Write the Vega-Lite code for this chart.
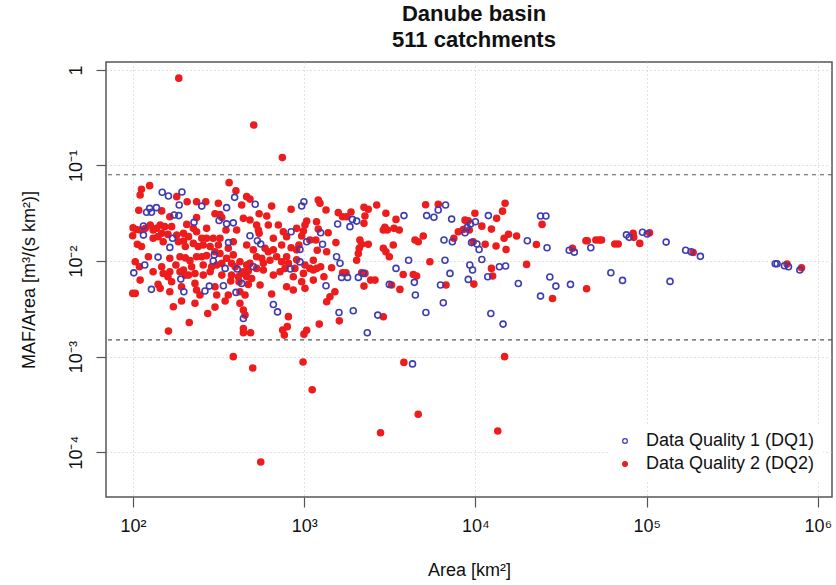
{
"$schema": "https://vega.github.io/schema/vega-lite/v6.json",
"width": 726, "height": 435,
"autosize": {"type": "none"},
"padding": {"left": 106, "top": 62, "right": 4, "bottom": 88},
"background": "white",
"config": {
  "font": "Liberation Sans, Arial, Helvetica, sans-serif",
  "view": {"stroke": "#555555", "strokeWidth": 1.5},
  "axis": {"domain": false, "tickSize": 10, "tickColor": "#555555", "tickWidth": 1.2, "labelFontSize": 18, "labelColor": "#111111", "labelPadding": 10, "titleFontSize": 18, "titleFontWeight": "normal", "titleColor": "#111111", "grid": true, "gridDash": [1, 3], "gridColor": "#c4c4c4", "gridWidth": 1}
},
"title": {"text": ["Danube basin", "511 catchments"], "fontSize": 22, "fontWeight": "bold", "color": "#111111", "anchor": "middle", "frame": "group", "offset": 10, "lineHeight": 26, "dx": 5},
"datasets": {
  "pts": [
{"a":185,"r":0.82,"q":"DQ2"},{"a":507,"r":0.265,"q":"DQ2"},{"a":745,"r":0.121,"q":"DQ2"},{"a":385,"r":0.001,"q":"DQ2"},{"a":500,"r":0.00076,"q":"DQ2"},{"a":984,"r":0.00088,"q":"DQ2"},{"a":1113,"r":0.00045,"q":"DQ2"},{"a":3820,"r":0.00087,"q":"DQ2"},{"a":4630,"r":0.00025,"q":"DQ2"},{"a":2790,"r":0.00016,"q":"DQ2"},{"a":13500,"r":0.000167,"q":"DQ2"},{"a":14800,"r":0.001,"q":"DQ2"},{"a":557,"r":0.000079,"q":"DQ2"},
{"a":125,"r":0.0615,"q":"DQ2"},{"a":112,"r":0.0563,"q":"DQ2"},{"a":364,"r":0.0661,"q":"DQ2"},{"a":399,"r":0.0545,"q":"DQ2"},{"a":161,"r":0.00185,"q":"DQ2"},{"a":213,"r":0.00228,"q":"DQ2"},{"a":441,"r":0.00197,"q":"DQ2"},{"a":441,"r":0.00178,"q":"DQ2"},{"a":486,"r":0.00178,"q":"DQ2"},{"a":748,"r":0.0019,"q":"DQ2"},{"a":765,"r":0.00168,"q":"DQ2"},{"a":796,"r":0.00206,"q":"DQ2"},
{"a":110,"r":0.0491,"q":"DQ2"},{"a":180,"r":0.0472,"q":"DQ2"},{"a":207,"r":0.0418,"q":"DQ2"},{"a":235,"r":0.0418,"q":"DQ2"},{"a":266,"r":0.0418,"q":"DQ2"},{"a":461,"r":0.0472,"q":"DQ2"},{"a":482,"r":0.0445,"q":"DQ2"},{"a":645,"r":0.0376,"q":"DQ2"},{"a":838,"r":0.0348,"q":"DQ2"},{"a":315,"r":0.0402,"q":"DQ2"},{"a":108,"r":0.034,"q":"DQ2"},{"a":147,"r":0.0335,"q":"DQ2"},{"a":164,"r":0.0291,"q":"DQ2"},{"a":206,"r":0.0242,"q":"DQ2"},{"a":235,"r":0.0285,"q":"DQ2"},{"a":301,"r":0.0313,"q":"DQ2"},{"a":322,"r":0.0306,"q":"DQ2"},{"a":330,"r":0.0285,"q":"DQ2"},{"a":431,"r":0.0386,"q":"DQ2"},{"a":441,"r":0.028,"q":"DQ2"},{"a":482,"r":0.0269,"q":"DQ2"},{"a":545,"r":0.0313,"q":"DQ2"},{"a":604,"r":0.0296,"q":"DQ2"},
{"a":100,"r":0.0223,"q":"DQ2"},{"a":104,"r":0.0214,"q":"DQ2"},{"a":110,"r":0.0211,"q":"DQ2"},{"a":118,"r":0.022,"q":"DQ2"},{"a":131,"r":0.0211,"q":"DQ2"},{"a":144,"r":0.0238,"q":"DQ2"},{"a":153,"r":0.0229,"q":"DQ2"},{"a":147,"r":0.0195,"q":"DQ2"},{"a":160,"r":0.019,"q":"DQ2"},{"a":197,"r":0.0195,"q":"DQ2"},{"a":225,"r":0.022,"q":"DQ2"},{"a":235,"r":0.0203,"q":"DQ2"},{"a":252,"r":0.0173,"q":"DQ2"},{"a":269,"r":0.0173,"q":"DQ2"},{"a":294,"r":0.0173,"q":"DQ2"},{"a":322,"r":0.0173,"q":"DQ2"},{"a":349,"r":0.0211,"q":"DQ2"},{"a":403,"r":0.0211,"q":"DQ2"},{"a":540,"r":0.0211,"q":"DQ2"},{"a":545,"r":0.0195,"q":"DQ2"},{"a":617,"r":0.0238,"q":"DQ2"},{"a":706,"r":0.0238,"q":"DQ2"},{"a":789,"r":0.018,"q":"DQ2"},{"a":903,"r":0.022,"q":"DQ2"},{"a":931,"r":0.0147,"q":"DQ2"},
{"a":99.5,"r":0.0184,"q":"DQ2"},{"a":106,"r":0.015,"q":"DQ2"},{"a":112,"r":0.0142,"q":"DQ2"},{"a":131,"r":0.0173,"q":"DQ2"},{"a":140,"r":0.018,"q":"DQ2"},{"a":150,"r":0.0159,"q":"DQ2"},{"a":184,"r":0.0159,"q":"DQ2"},{"a":197,"r":0.0162,"q":"DQ2"},{"a":202,"r":0.0142,"q":"DQ2"},{"a":225,"r":0.0153,"q":"DQ2"},{"a":240,"r":0.0142,"q":"DQ2"},{"a":282,"r":0.0142,"q":"DQ2"},{"a":315,"r":0.0147,"q":"DQ2"},{"a":360,"r":0.0136,"q":"DQ2"},{"a":385,"r":0.0159,"q":"DQ2"},{"a":461,"r":0.0147,"q":"DQ2"},{"a":504,"r":0.0131,"q":"DQ2"},{"a":590,"r":0.0136,"q":"DQ2"},{"a":660,"r":0.0131,"q":"DQ2"},{"a":738,"r":0.0147,"q":"DQ2"},{"a":838,"r":0.0138,"q":"DQ2"},{"a":903,"r":0.0131,"q":"DQ2"},
{"a":103,"r":0.00984,"q":"DQ2"},{"a":123,"r":0.0111,"q":"DQ2"},{"a":164,"r":0.0107,"q":"DQ2"},{"a":188,"r":0.0111,"q":"DQ2"},{"a":202,"r":0.0108,"q":"DQ2"},{"a":215,"r":0.0101,"q":"DQ2"},{"a":235,"r":0.0111,"q":"DQ2"},{"a":252,"r":0.0111,"q":"DQ2"},{"a":269,"r":0.0114,"q":"DQ2"},{"a":301,"r":0.0125,"q":"DQ2"},{"a":322,"r":0.012,"q":"DQ2"},{"a":352,"r":0.0107,"q":"DQ2"},{"a":385,"r":0.0116,"q":"DQ2"},{"a":421,"r":0.00984,"q":"DQ2"},{"a":461,"r":0.00908,"q":"DQ2"},{"a":527,"r":0.0111,"q":"DQ2"},{"a":565,"r":0.0107,"q":"DQ2"},{"a":631,"r":0.0102,"q":"DQ2"},{"a":690,"r":0.0111,"q":"DQ2"},{"a":738,"r":0.00984,"q":"DQ2"},{"a":808,"r":0.00945,"q":"DQ2"},{"a":903,"r":0.0103,"q":"DQ2"},
{"a":109,"r":0.00873,"q":"DQ2"},{"a":131,"r":0.00773,"q":"DQ2"},{"a":147,"r":0.00873,"q":"DQ2"},{"a":164,"r":0.00773,"q":"DQ2"},{"a":178,"r":0.00908,"q":"DQ2"},{"a":197,"r":0.00805,"q":"DQ2"},{"a":211,"r":0.00713,"q":"DQ2"},{"a":230,"r":0.00742,"q":"DQ2"},{"a":257,"r":0.00713,"q":"DQ2"},{"a":282,"r":0.00773,"q":"DQ2"},{"a":308,"r":0.00908,"q":"DQ2"},{"a":330,"r":0.00713,"q":"DQ2"},{"a":376,"r":0.00713,"q":"DQ2"},{"a":441,"r":0.00773,"q":"DQ2"},{"a":461,"r":0.00685,"q":"DQ2"},{"a":493,"r":0.00658,"q":"DQ2"},{"a":527,"r":0.00838,"q":"DQ2"},{"a":577,"r":0.00805,"q":"DQ2"},{"a":660,"r":0.00713,"q":"DQ2"},{"a":722,"r":0.00773,"q":"DQ2"},{"a":772,"r":0.00838,"q":"DQ2"},{"a":863,"r":0.00685,"q":"DQ2"},
{"a":110,"r":0.00632,"q":"DQ2"},{"a":140,"r":0.0057,"q":"DQ2"},{"a":144,"r":0.00518,"q":"DQ2"},{"a":164,"r":0.00478,"q":"DQ2"},{"a":168,"r":0.00608,"q":"DQ2"},{"a":192,"r":0.00539,"q":"DQ2"},{"a":230,"r":0.00584,"q":"DQ2"},{"a":235,"r":0.00498,"q":"DQ2"},{"a":246,"r":0.00441,"q":"DQ2"},{"a":301,"r":0.00539,"q":"DQ2"},{"a":308,"r":0.00441,"q":"DQ2"},{"a":360,"r":0.00441,"q":"DQ2"},{"a":421,"r":0.00478,"q":"DQ2"},{"a":451,"r":0.00441,"q":"DQ2"},{"a":471,"r":0.0057,"q":"DQ2"},{"a":552,"r":0.00561,"q":"DQ2"},{"a":789,"r":0.00539,"q":"DQ2"},{"a":863,"r":0.00498,"q":"DQ2"},{"a":103,"r":0.00459,"q":"DQ2"},{"a":99.6,"r":0.00459,"q":"DQ2"},{"a":172,"r":0.00333,"q":"DQ2"},{"a":192,"r":0.00382,"q":"DQ2"},{"a":230,"r":0.00362,"q":"DQ2"},{"a":273,"r":0.00283,"q":"DQ2"},{"a":301,"r":0.0033,"q":"DQ2"},{"a":345,"r":0.00382,"q":"DQ2"},{"a":421,"r":0.00362,"q":"DQ2"},{"a":441,"r":0.00307,"q":"DQ2"},{"a":451,"r":0.00272,"q":"DQ2"},{"a":645,"r":0.00452,"q":"DQ2"},{"a":808,"r":0.00262,"q":"DQ2"},
{"a":376,"r":0.00946,"q":"DQ2"},{"a":395,"r":0.00873,"q":"DQ2"},{"a":412,"r":0.00685,"q":"DQ2"},{"a":431,"r":0.00742,"q":"DQ2"},{"a":471,"r":0.00787,"q":"DQ2"},{"a":482,"r":0.00945,"q":"DQ2"},{"a":416,"r":0.00608,"q":"DQ2"},{"a":372,"r":0.0062,"q":"DQ2"},{"a":330,"r":0.00946,"q":"DQ2"},{"a":288,"r":0.00873,"q":"DQ2"},{"a":257,"r":0.00908,"q":"DQ2"},{"a":220,"r":0.00873,"q":"DQ2"},{"a":202,"r":0.00713,"q":"DQ2"},{"a":188,"r":0.00773,"q":"DQ2"},{"a":160,"r":0.00685,"q":"DQ2"},{"a":150,"r":0.00742,"q":"DQ2"},
{"a":126,"r":0.0238,"q":"DQ2"},{"a":137,"r":0.022,"q":"DQ2"},{"a":168,"r":0.0229,"q":"DQ2"},{"a":180,"r":0.0187,"q":"DQ2"},{"a":211,"r":0.018,"q":"DQ2"},{"a":257,"r":0.0147,"q":"DQ2"},{"a":269,"r":0.022,"q":"DQ2"},{"a":527,"r":0.0238,"q":"DQ2"},{"a":755,"r":0.0203,"q":"DQ2"},{"a":660,"r":0.0173,"q":"DQ2"},{"a":577,"r":0.00946,"q":"DQ2"},{"a":617,"r":0.0125,"q":"DQ2"},{"a":789,"r":0.0111,"q":"DQ2"},{"a":882,"r":0.00838,"q":"DQ2"},
{"a":1208,"r":0.0436,"q":"DQ2"},{"a":1236,"r":0.0402,"q":"DQ2"},{"a":1340,"r":0.0342,"q":"DQ2"},{"a":1033,"r":0.0262,"q":"DQ2"},{"a":1010,"r":0.0238,"q":"DQ2"},{"a":1180,"r":0.0258,"q":"DQ2"},{"a":1208,"r":0.0216,"q":"DQ2"},{"a":1380,"r":0.0198,"q":"DQ2"},{"a":989,"r":0.0206,"q":"DQ2"},{"a":966,"r":0.0183,"q":"DQ2"},{"a":1079,"r":0.0166,"q":"DQ2"},{"a":1169,"r":0.0166,"q":"DQ2"},{"a":1191,"r":0.013,"q":"DQ2"},{"a":1352,"r":0.0125,"q":"DQ2"},{"a":1531,"r":0.0156,"q":"DQ2"},{"a":1130,"r":0.0102,"q":"DQ2"},{"a":1010,"r":0.00908,"q":"DQ2"},{"a":1079,"r":0.00838,"q":"DQ2"},{"a":989,"r":0.00743,"q":"DQ2"},{"a":966,"r":0.00608,"q":"DQ2"},{"a":1010,"r":0.00518,"q":"DQ2"},{"a":1130,"r":0.00805,"q":"DQ2"},{"a":1180,"r":0.00838,"q":"DQ2"},{"a":1247,"r":0.00873,"q":"DQ2"},{"a":1130,"r":0.00632,"q":"DQ2"},{"a":1303,"r":0.00686,"q":"DQ2"},{"a":1445,"r":0.00851,"q":"DQ2"},{"a":1675,"r":0.00755,"q":"DQ2"},{"a":1754,"r":0.00755,"q":"DQ2"},{"a":1510,"r":0.00478,"q":"DQ2"},{"a":1413,"r":0.00423,"q":"DQ2"},{"a":1352,"r":0.00375,"q":"DQ2"},{"a":1603,"r":0.00237,"q":"DQ2"},{"a":1224,"r":0.00219,"q":"DQ2"},{"a":1033,"r":0.00189,"q":"DQ2"},{"a":996,"r":0.00172,"q":"DQ2"},
{"a":1581,"r":0.0321,"q":"DQ2"},{"a":1675,"r":0.0291,"q":"DQ2"},{"a":1770,"r":0.0291,"q":"DQ2"},{"a":1876,"r":0.0326,"q":"DQ2"},{"a":2233,"r":0.0365,"q":"DQ2"},{"a":2366,"r":0.0348,"q":"DQ2"},{"a":2650,"r":0.0386,"q":"DQ2"},{"a":2263,"r":0.0296,"q":"DQ2"},{"a":2233,"r":0.0248,"q":"DQ2"},{"a":2114,"r":0.0166,"q":"DQ2"},{"a":2163,"r":0.015,"q":"DQ2"},{"a":2094,"r":0.0136,"q":"DQ2"},{"a":2070,"r":0.012,"q":"DQ2"},{"a":2366,"r":0.015,"q":"DQ2"},{"a":2024,"r":0.0102,"q":"DQ2"},{"a":2263,"r":0.00743,"q":"DQ2"},{"a":2163,"r":0.00755,"q":"DQ2"},{"a":2233,"r":0.00547,"q":"DQ2"},{"a":2443,"r":0.00632,"q":"DQ2"},{"a":2590,"r":0.00632,"q":"DQ2"},{"a":3000,"r":0.0316,"q":"DQ2"},{"a":2897,"r":0.0211,"q":"DQ2"},{"a":3055,"r":0.0211,"q":"DQ2"},{"a":2958,"r":0.0225,"q":"DQ2"},{"a":3436,"r":0.0273,"q":"DQ2"},{"a":3343,"r":0.022,"q":"DQ2"},{"a":3589,"r":0.0211,"q":"DQ2"},{"a":2897,"r":0.0136,"q":"DQ2"},{"a":3000,"r":0.0125,"q":"DQ2"},{"a":3141,"r":0.0111,"q":"DQ2"},{"a":3311,"r":0.0147,"q":"DQ2"},{"a":3622,"r":0.00505,"q":"DQ2"},{"a":3236,"r":0.00561,"q":"DQ2"},{"a":2897,"r":0.00261,"q":"DQ2"},{"a":3785,"r":0.00724,"q":"DQ2"},{"a":4335,"r":0.00724,"q":"DQ2"},{"a":4530,"r":0.00697,"q":"DQ2"},{"a":4436,"r":0.0166,"q":"DQ2"},{"a":4634,"r":0.0159,"q":"DQ2"},{"a":4955,"r":0.0183,"q":"DQ2"},{"a":5117,"r":0.0389,"q":"DQ2"},{"a":5420,"r":0.00984,"q":"DQ2"},{"a":6067,"r":0.0392,"q":"DQ2"},{"a":6730,"r":0.00561,"q":"DQ2"},{"a":7480,"r":0.0173,"q":"DQ2"},{"a":7940,"r":0.0203,"q":"DQ2"},{"a":8690,"r":0.0268,"q":"DQ2"},{"a":9080,"r":0.0264,"q":"DQ2"},{"a":8490,"r":0.0214,"q":"DQ2"},{"a":9210,"r":0.0211,"q":"DQ2"},{"a":9790,"r":0.00574,"q":"DQ2"},{"a":9930,"r":0.0316,"q":"DQ2"},{"a":9700,"r":0.0159,"q":"DQ2"},{"a":10900,"r":0.0232,"q":"DQ2"},{"a":11400,"r":0.015,"q":"DQ2"},{"a":12400,"r":0.0216,"q":"DQ2"},{"a":12400,"r":0.00838,"q":"DQ2"},{"a":12600,"r":0.00697,"q":"DQ2"},{"a":13300,"r":0.028,"q":"DQ2"},{"a":14400,"r":0.0333,"q":"DQ2"},{"a":14900,"r":0.0402,"q":"DQ2"},{"a":13200,"r":0.0144,"q":"DQ2"},{"a":15100,"r":0.0132,"q":"DQ2"},{"a":14700,"r":0.0173,"q":"DQ2"},{"a":15600,"r":0.0191,"q":"DQ2"},{"a":17400,"r":0.0183,"q":"DQ2"},{"a":19900,"r":0.00923,"q":"DQ2"},
{"a":24500,"r":0.0242,"q":"DQ2"},{"a":22700,"r":0.0149,"q":"DQ2"},{"a":36900,"r":0.0136,"q":"DQ2"},{"a":44200,"r":0.0163,"q":"DQ2"},{"a":45000,"r":0.0163,"q":"DQ2"},{"a":50500,"r":0.0166,"q":"DQ2"},{"a":52800,"r":0.0166,"q":"DQ2"},{"a":54500,"r":0.0166,"q":"DQ2"},{"a":65200,"r":0.0151,"q":"DQ2"},{"a":68200,"r":0.0151,"q":"DQ2"},{"a":83400,"r":0.0195,"q":"DQ2"},{"a":84100,"r":0.0177,"q":"DQ2"},{"a":91200,"r":0.0153,"q":"DQ2"},{"a":104000,"r":0.0198,"q":"DQ2"},{"a":187000,"r":0.0123,"q":"DQ2"},{"a":661000,"r":0.0093,"q":"DQ2"},{"a":803000,"r":0.0085,"q":"DQ2"},{"a":28200,"r":0.00406,"q":"DQ2"},{"a":44600,"r":0.00513,"q":"DQ2"},
{"a":148,"r":0.0524,"q":"DQ1"},{"a":193,"r":0.0528,"q":"DQ1"},
{"a":125,"r":0.0356,"q":"DQ1"},{"a":137,"r":0.0362,"q":"DQ1"},{"a":120,"r":0.0324,"q":"DQ1"},{"a":128,"r":0.0324,"q":"DQ1"},{"a":186,"r":0.0386,"q":"DQ1"},{"a":161,"r":0.048,"q":"DQ1"},{"a":174,"r":0.0303,"q":"DQ1"},{"a":185,"r":0.0299,"q":"DQ1"},{"a":252,"r":0.0376,"q":"DQ1"},{"a":352,"r":0.0362,"q":"DQ1"},{"a":392,"r":0.0464,"q":"DQ1"},{"a":517,"r":0.0393,"q":"DQ1"},{"a":227,"r":0.0254,"q":"DQ1"},{"a":318,"r":0.0266,"q":"DQ1"},{"a":352,"r":0.0245,"q":"DQ1"},{"a":385,"r":0.0251,"q":"DQ1"},{"a":115,"r":0.0233,"q":"DQ1"},{"a":115,"r":0.0187,"q":"DQ1"},{"a":170,"r":0.0173,"q":"DQ1"},{"a":164,"r":0.0139,"q":"DQ1"},{"a":140,"r":0.011,"q":"DQ1"},{"a":117,"r":0.00908,"q":"DQ1"},{"a":101,"r":0.00753,"q":"DQ1"},{"a":128,"r":0.00506,"q":"DQ1"},{"a":190,"r":0.00648,"q":"DQ1"},{"a":198,"r":0.00478,"q":"DQ1"},{"a":263,"r":0.00486,"q":"DQ1"},{"a":279,"r":0.00547,"q":"DQ1"},{"a":298,"r":0.0116,"q":"DQ1"},{"a":294,"r":0.01,"q":"DQ1"},{"a":345,"r":0.00838,"q":"DQ1"},{"a":337,"r":0.00552,"q":"DQ1"},{"a":406,"r":0.00825,"q":"DQ1"},{"a":399,"r":0.0047,"q":"DQ1"},{"a":431,"r":0.00584,"q":"DQ1"},{"a":504,"r":0.00873,"q":"DQ1"},{"a":482,"r":0.0184,"q":"DQ1"},{"a":532,"r":0.0163,"q":"DQ1"},{"a":557,"r":0.0151,"q":"DQ1"},{"a":838,"r":0.0203,"q":"DQ1"},{"a":830,"r":0.00825,"q":"DQ1"},{"a":660,"r":0.00351,"q":"DQ1"},{"a":698,"r":0.00294,"q":"DQ1"},{"a":441,"r":0.00251,"q":"DQ1"},{"a":361,"r":0.0156,"q":"DQ1"},
{"a":995,"r":0.0418,"q":"DQ1"},{"a":966,"r":0.0377,"q":"DQ1"},{"a":1247,"r":0.0198,"q":"DQ1"},{"a":1033,"r":0.0159,"q":"DQ1"},{"a":944,"r":0.0132,"q":"DQ1"},{"a":1279,"r":0.015,"q":"DQ1"},{"a":944,"r":0.0098,"q":"DQ1"},{"a":1567,"r":0.0244,"q":"DQ1"},{"a":1910,"r":0.0273,"q":"DQ1"},{"a":2024,"r":0.0262,"q":"DQ1"},{"a":1849,"r":0.0229,"q":"DQ1"},{"a":1545,"r":0.0111,"q":"DQ1"},{"a":1618,"r":0.0095,"q":"DQ1"},{"a":1652,"r":0.00675,"q":"DQ1"},{"a":1791,"r":0.00675,"q":"DQ1"},{"a":2070,"r":0.00675,"q":"DQ1"},{"a":2213,"r":0.00743,"q":"DQ1"},{"a":1340,"r":0.00552,"q":"DQ1"},{"a":1596,"r":0.0029,"q":"DQ1"},{"a":1933,"r":0.00302,"q":"DQ1"},{"a":2687,"r":0.00272,"q":"DQ1"},{"a":2335,"r":0.00178,"q":"DQ1"},{"a":3141,"r":0.0057,"q":"DQ1"},{"a":3436,"r":0.00838,"q":"DQ1"},{"a":3824,"r":0.0299,"q":"DQ1"},{"a":4070,"r":0.0102,"q":"DQ1"},{"a":4397,"r":0.00599,"q":"DQ1"},{"a":4457,"r":0.00441,"q":"DQ1"},{"a":5136,"r":0.0029,"q":"DQ1"},{"a":5190,"r":0.0299,"q":"DQ1"},{"a":5720,"r":0.0287,"q":"DQ1"},{"a":6060,"r":0.0342,"q":"DQ1"},{"a":6690,"r":0.0386,"q":"DQ1"},{"a":7260,"r":0.0275,"q":"DQ1"},{"a":6550,"r":0.0166,"q":"DQ1"},{"a":7330,"r":0.0159,"q":"DQ1"},{"a":6640,"r":0.0102,"q":"DQ1"},{"a":7100,"r":0.00743,"q":"DQ1"},{"a":6250,"r":0.00561,"q":"DQ1"},{"a":6490,"r":0.00366,"q":"DQ1"},{"a":8690,"r":0.0198,"q":"DQ1"},{"a":8950,"r":0.0225,"q":"DQ1"},{"a":9360,"r":0.0244,"q":"DQ1"},{"a":10000,"r":0.0258,"q":"DQ1"},{"a":9490,"r":0.0156,"q":"DQ1"},{"a":10200,"r":0.0151,"q":"DQ1"},{"a":10500,"r":0.0132,"q":"DQ1"},{"a":10900,"r":0.0104,"q":"DQ1"},{"a":9270,"r":0.00908,"q":"DQ1"},{"a":9620,"r":0.00805,"q":"DQ1"},{"a":9080,"r":0.00643,"q":"DQ1"},{"a":11900,"r":0.0299,"q":"DQ1"},{"a":11800,"r":0.00686,"q":"DQ1"},{"a":12300,"r":0.00283,"q":"DQ1"},{"a":13800,"r":0.00873,"q":"DQ1"},{"a":15000,"r":0.00887,"q":"DQ1"},{"a":14500,"r":0.00219,"q":"DQ1"},{"a":17800,"r":0.00583,"q":"DQ1"},{"a":20100,"r":0.0163,"q":"DQ1"},{"a":4290,"r":0.00084,"q":"DQ1"},
{"a":24000,"r":0.0296,"q":"DQ1"},{"a":25800,"r":0.0296,"q":"DQ1"},{"a":26200,"r":0.0138,"q":"DQ1"},{"a":35300,"r":0.013,"q":"DQ1"},{"a":37800,"r":0.0124,"q":"DQ1"},{"a":47200,"r":0.0138,"q":"DQ1"},{"a":76200,"r":0.0188,"q":"DQ1"},{"a":79100,"r":0.0177,"q":"DQ1"},{"a":94600,"r":0.02,"q":"DQ1"},{"a":100700,"r":0.0192,"q":"DQ1"},{"a":130000,"r":0.0158,"q":"DQ1"},{"a":169000,"r":0.013,"q":"DQ1"},{"a":182000,"r":0.0125,"q":"DQ1"},{"a":206000,"r":0.0112,"q":"DQ1"},{"a":564000,"r":0.00938,"q":"DQ1"},{"a":578000,"r":0.00938,"q":"DQ1"},{"a":638000,"r":0.00893,"q":"DQ1"},{"a":674000,"r":0.00873,"q":"DQ1"},{"a":785000,"r":0.00805,"q":"DQ1"},{"a":27200,"r":0.0068,"q":"DQ1"},{"a":29500,"r":0.00547,"q":"DQ1"},{"a":24000,"r":0.0043,"q":"DQ1"},{"a":35900,"r":0.0057,"q":"DQ1"},{"a":61800,"r":0.00755,"q":"DQ1"},{"a":72300,"r":0.00628,"q":"DQ1"},{"a":137000,"r":0.00613,"q":"DQ1"}
  ],
  "limits": [{"r": 0.08}, {"r": 0.0015}]
},
"layer": [
  {
    "data": {"name": "limits"},
    "mark": {"type": "rule", "strokeDash": [4, 4], "color": "#555555", "strokeWidth": 1.2},
    "encoding": {"y": {"field": "r", "type": "quantitative"}}
  },
  {
    "data": {"name": "pts"},
    "mark": {"type": "point", "shape": "circle", "size": 36, "strokeWidth": 1.6, "opacity": 1, "fillOpacity": 1, "strokeOpacity": 1},
    "encoding": {
      "x": {"field": "a", "type": "quantitative",
        "scale": {"type": "log", "domain": [69.5, 1210000], "nice": false},
        "axis": {"values": [100, 1000, 10000, 100000, 1000000], "title": "Area [km²]", "titlePadding": 26,
          "labelExpr": "datum.value < 500 ? '10²' : datum.value < 5000 ? '10³' : datum.value < 50000 ? '10⁴' : datum.value < 500000 ? '10⁵' : '10⁶'"}},
      "y": {"field": "r", "type": "quantitative",
        "scale": {"type": "log", "domain": [0.000034, 1.21], "nice": false},
        "axis": {"values": [0.0001, 0.001, 0.01, 0.1, 1], "title": "MAF/Area [m³/(s km²)]", "titlePadding": 29,
          "labelAngle": -90, "labelAlign": "center", "labelBaseline": "bottom", "labelPadding": 11,
          "labelExpr": "datum.value > 0.5 ? '1' : datum.value > 0.05 ? '10⁻¹' : datum.value > 0.005 ? '10⁻²' : datum.value > 0.0005 ? '10⁻³' : '10⁻⁴'"}},
      "fill": {"field": "q", "type": "nominal",
        "scale": {"domain": ["DQ1", "DQ2"], "range": ["transparent", "#ee1c1c"]},
        "legend": {"title": null, "orient": "none", "legendX": 502, "legendY": 362, "fillColor": "white", "padding": 8, "labelFontSize": 18, "labelLimit": 320, "labelColor": "#111111", "symbolType": "circle", "symbolSize": 22, "symbolStrokeWidth": 1.3, "labelOffset": 12, "rowPadding": 5,
          "labelExpr": "'Data Quality ' + (datum.label == 'DQ1' ? '1' : '2') + ' (' + datum.label + ')'"}},
      "stroke": {"field": "q", "type": "nominal",
        "scale": {"domain": ["DQ1", "DQ2"], "range": ["#3c3cb4", "#ee1c1c"]},
        "legend": {"title": null, "orient": "none", "legendX": 502, "legendY": 362, "fillColor": "white", "padding": 8, "labelFontSize": 18, "labelLimit": 320, "labelColor": "#111111", "symbolType": "circle", "symbolSize": 22, "symbolStrokeWidth": 1.3, "labelOffset": 12, "rowPadding": 5,
          "labelExpr": "'Data Quality ' + (datum.label == 'DQ1' ? '1' : '2') + ' (' + datum.label + ')'"}}
    }
  }
]
}
